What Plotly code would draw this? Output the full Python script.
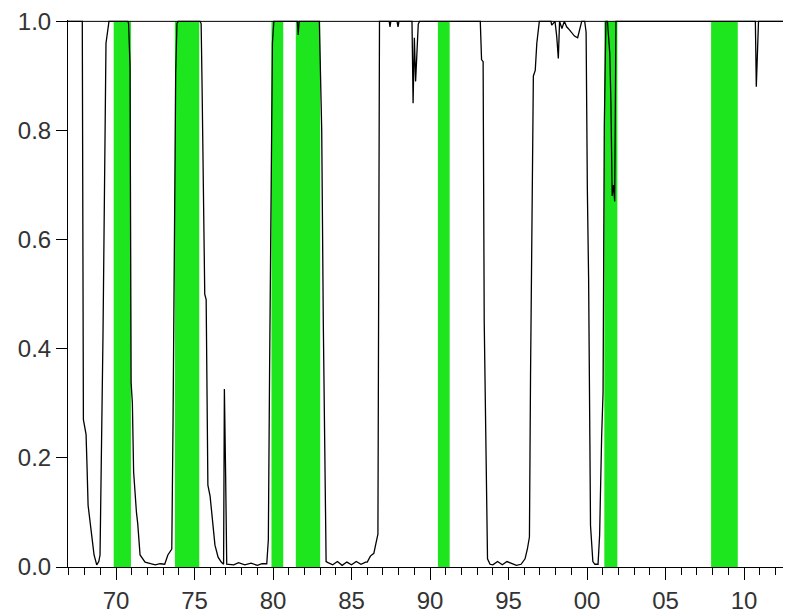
import plotly.graph_objects as go

# Probability series (decimal year, value)
years = [
    1966.94, 1967.85, 1967.92, 1968.09, 1968.15, 1968.22, 1968.45, 1968.60, 1968.77, 1968.90,
    1968.98, 1969.04, 1969.13, 1969.17, 1969.36, 1969.49, 1969.55,
    1970.75, 1970.80, 1970.89, 1970.96, 1971.04, 1971.12, 1971.30, 1971.38, 1971.53, 1971.85,
    1972.20, 1972.50, 1972.80, 1973.10, 1973.30, 1973.55, 1973.63, 1973.70, 1973.80, 1973.88, 1973.95,
    1975.35, 1975.42, 1975.48, 1975.65, 1975.74, 1975.85, 1975.99, 1976.20, 1976.30, 1976.50,
    1976.70, 1976.85, 1976.90, 1976.98, 1977.05, 1977.50, 1977.80, 1978.20, 1978.60, 1979.00,
    1979.30, 1979.60, 1979.70, 1979.78, 1979.88, 1979.96, 1980.05,
    1981.55, 1981.60, 1981.66, 1982.95, 1982.99, 1983.10, 1983.20, 1983.30, 1983.38, 1983.50,
    1983.80, 1984.10, 1984.40, 1984.70, 1985.00, 1985.30, 1985.60, 1985.90, 1986.00, 1986.20,
    1986.42, 1986.55, 1986.68, 1986.78,
    1987.40, 1987.45, 1987.50, 1987.90, 1987.96, 1988.02, 1988.85, 1988.92, 1989.00, 1989.08,
    1989.17, 1989.25, 1989.33,
    1993.20, 1993.28, 1993.38, 1993.45, 1993.55, 1993.66, 1993.82, 1994.00, 1994.30, 1994.60,
    1994.90, 1995.20, 1995.50, 1995.80, 1996.05, 1996.20, 1996.33, 1996.40, 1996.50, 1996.58,
    1996.70, 1996.80, 1996.96, 1997.70, 1997.75, 1997.96, 1998.07, 1998.17, 1998.25, 1998.40,
    1998.55, 1998.70, 1998.80, 1999.02, 1999.20, 1999.40, 1999.55, 1999.66, 1999.85, 1999.94,
    2000.02, 2000.10, 2000.18, 2000.22, 2000.37, 2000.50, 2000.70, 2000.80, 2000.93, 2001.02,
    2001.10, 2001.20, 2001.30, 2001.38, 2001.45, 2001.52, 2001.60, 2001.68, 2001.76, 2001.84,
    2010.72, 2010.78, 2010.85, 2010.92, 2013.10,
]
probability = [
    1.0, 1.0, 0.27, 0.243, 0.186, 0.113, 0.058, 0.022, 0.004, 0.01,
    0.022, 0.143, 0.27, 0.427, 0.96, 0.996, 1.0,
    1.0, 0.996, 0.918, 0.338, 0.30, 0.174, 0.10, 0.08, 0.022, 0.009,
    0.006, 0.004, 0.006, 0.005, 0.022, 0.033, 0.265, 0.51, 0.905, 0.996, 1.0,
    1.0, 0.996, 0.88, 0.50, 0.49, 0.15, 0.13, 0.064, 0.04, 0.018,
    0.009, 0.005, 0.326, 0.168, 0.005, 0.004, 0.008, 0.004, 0.007, 0.003,
    0.006, 0.006, 0.05, 0.36, 0.72, 0.96, 1.0,
    1.0, 0.975, 1.0, 1.0, 0.94, 0.80, 0.45, 0.20, 0.01, 0.008,
    0.004, 0.01, 0.003, 0.009, 0.004, 0.01, 0.005, 0.009, 0.009, 0.02,
    0.025, 0.043, 0.06, 1.0,
    1.0, 0.99, 1.0, 1.0, 0.99, 1.0, 1.0, 0.85, 0.97, 0.89,
    0.96, 0.995, 1.0,
    1.0, 0.93, 0.926, 0.45, 0.28, 0.015, 0.005, 0.004, 0.01, 0.004,
    0.01, 0.006, 0.003, 0.005, 0.015, 0.033, 0.055, 0.35, 0.70, 0.90,
    0.91, 0.96, 1.0, 1.0, 0.993, 1.0, 0.972, 0.932, 1.0, 0.987,
    1.0, 0.99, 0.987, 0.98, 0.973, 0.97, 0.99, 1.0, 1.0, 0.98,
    0.69, 0.527, 0.23, 0.076, 0.01, 0.005, 0.005, 0.058, 0.24, 0.32,
    0.81, 1.0, 1.0, 0.97, 0.94, 0.85, 0.68, 0.70, 0.67, 1.0,
    1.0, 0.88, 0.95, 1.0, 1.0,
]

# Recession periods (green bands)
rec_start = [1969.85, 1973.75, 1979.9, 1981.45, 1990.5, 2001.1, 2007.9]
rec_end = [1970.95, 1975.3, 1980.65, 1983.0, 1991.25, 2001.93, 2009.6]

tick_years = [1970, 1975, 1980, 1985, 1990, 1995, 2000, 2005, 2010]
tick_labels = ["70", "75", "80", "85", "90", "95", "00", "05", "10"]
y_ticks = [0.0, 0.2, 0.4, 0.6, 0.8, 1.0]
y_labels = ["0.0", "0.2", "0.4", "0.6", "0.8", "1.0"]

GREEN = "#1ee61e"

fig = go.Figure()
fig.add_trace(go.Scatter(
    x=years, y=probability, mode="lines",
    line=dict(color="black", width=1.3),
    showlegend=False, hoverinfo="skip",
))

shapes = []
for s, e in zip(rec_start, rec_end):
    shapes.append(dict(type="rect", xref="x", yref="y", x0=s, x1=e, y0=0, y1=1,
                       fillcolor=GREEN, line=dict(width=0), layer="below"))
shapes.append(dict(type="line", xref="paper", yref="y", x0=0, x1=1, y0=1, y1=1,
                   line=dict(color="black", width=1), layer="above"))

font = dict(family="Liberation Sans, Arial, sans-serif", size=24, color="#333333")

# page body has an 8px default margin: the figure is sized/offset to compensate
fig.update_layout(
    width=783, height=606,
    margin=dict(l=60, r=0, t=9, b=41),
    paper_bgcolor="white", plot_bgcolor="white",
    shapes=shapes,
    font=font,
    xaxis=dict(
        range=[1966.94, 2012.99],
        tickmode="array", tickvals=tick_years, ticktext=tick_labels,
        ticks="outside", ticklen=12, tickwidth=1, tickcolor="black",
        showline=True, linecolor="black", linewidth=1,
        showgrid=False, zeroline=False, ticklabeloverflow="allow",
        minor=dict(tickmode="linear", tick0=1967, dtick=1, ticks="outside",
                   ticklen=7, tickwidth=1, tickcolor="black", showgrid=False),
        tickfont=font,
    ),
    yaxis=dict(
        range=[0, 1.0025],
        tickmode="array", tickvals=y_ticks, ticktext=y_labels,
        ticks="outside", ticklen=11, tickwidth=1, tickcolor="black",
        showline=True, linecolor="black", linewidth=1,
        showgrid=False, zeroline=False, ticklabeloverflow="allow",
        tickfont=font,
    ),
)

fig.write_html("out.html")
